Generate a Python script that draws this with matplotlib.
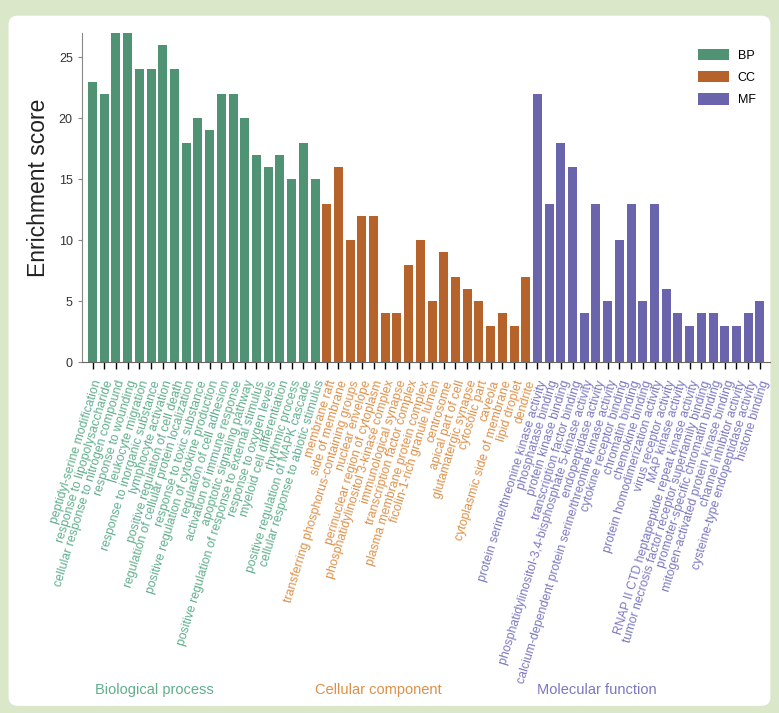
import numpy as np
import matplotlib.pyplot as plt
from matplotlib.patches import FancyBboxPatch, Patch
from matplotlib.transforms import blended_transform_factory

plt.rcParams['font.family'] = ['Liberation Sans', 'DejaVu Sans']

bp_terms = [
    "peptidyl-serine modification",
    "response to lipopolysaccharide",
    "cellular response to nitrogen compound",
    "response to wounding",
    "leukocyte migration",
    "response to inorganic substance",
    "lymphocyte activation",
    "positive regulation of cell death",
    "regulation of cellular protein localization",
    "response to toxic substance",
    "positive regulation of cytokine production",
    "regulation of cell adhesion",
    "activation of immune response",
    "apoptotic signaling pathway",
    "positive regulation of response to external stimulus",
    "response to oxygen levels",
    "myeloid cell differentiation",
    "rhythmic process",
    "positive regulation of MAPK cascade",
    "cellular response to abiotic stimulus",
]
bp_scores = [23, 22, 27, 27, 24, 24, 26, 24, 18, 20, 19, 22, 22, 20, 17, 16, 17, 15, 18, 15]

cc_terms = [
    "membrane raft",
    "side of membrane",
    "transferring phosphorus-containing groups",
    "nuclear envelope",
    "perinuclear region of cytoplasm",
    "phosphatidylinositol 3-kinase complex",
    "immunological synapse",
    "transcription factor complex",
    "plasma membrane protein complex",
    "ficolin-1-rich granule lumen",
    "centrosome",
    "apical part of cell",
    "glutamatergic synapse",
    "cytosolic part",
    "caveola",
    "cytoplasmic side of membrane",
    "lipid droplet",
    "dendrite",
]
cc_scores = [13, 16, 10, 12, 12, 4, 4, 8, 10, 5, 9, 7, 6, 5, 3, 4, 3, 7]

mf_terms = [
    "protein serine/threonine kinase activity",
    "phosphatase binding",
    "protein kinase binding",
    "transcription factor binding",
    "phosphatidylinositol-3,4-bisphosphate 5-kinase activity",
    "endopeptidase activity",
    "calcium-dependent protein serine/threonine kinase activity",
    "cytokine receptor binding",
    "chromatin binding",
    "chemokine binding",
    "protein homodimerization activity",
    "virus receptor activity",
    "MAP kinase activity",
    "RNAP II CTD heptapeptide repeat kinase activity",
    "tumor necrosis factor receptor superfamily binding",
    "promoter-specific chromatin binding",
    "mitogen-activated protein kinase binding",
    "channel inhibitor activity",
    "cysteine-type endopeptidase activity",
    "histone binding",
]
mf_scores = [22, 13, 18, 16, 4, 13, 5, 10, 13, 5, 13, 6, 4, 3, 4, 4, 3, 3, 4, 5]

groups = ["BP", "CC", "MF"]
group_names = ["Biological process", "Cellular component", "Molecular function"]
bar_colors = {"BP": "#4f9274", "CC": "#b5622b", "MF": "#6a64ad"}
text_colors = {"BP": "#5fae8c", "CC": "#dd9048", "MF": "#7b78c0"}

terms = bp_terms + cc_terms + mf_terms
scores = bp_scores + cc_scores + mf_scores
labels = ["BP"] * len(bp_terms) + ["CC"] * len(cc_terms) + ["MF"] * len(mf_terms)
x = np.arange(len(terms))

fig = plt.figure(figsize=(7.79, 7.13), dpi=100)
fig.patch.set_facecolor("#dbe7c9")
panel = FancyBboxPatch((0.011, 0.01), 0.978, 0.968,
                       boxstyle="round,pad=0,rounding_size=0.012",
                       transform=fig.transFigure, facecolor="white",
                       edgecolor="none", zorder=-1)
fig.patches.append(panel)

ax = fig.add_axes([0.105, 0.492, 0.884, 0.462])
ax.set_facecolor("none")

ax.bar(x, scores, width=0.77, color=[bar_colors[g] for g in labels], zorder=2)

ax.set_xlim(-0.92, len(terms) - 0.1)
ax.set_ylim(0, 27)
ax.set_yticks([0, 5, 10, 15, 20, 25])
ax.tick_params(axis="y", labelsize=9, colors="#333333", length=3, color="#888888")
ax.set_ylabel("Enrichment score", fontsize=16.5, color="#222222")
ax.yaxis.set_label_coords(-0.046, 0.53)

ax.set_xticks(x)
ax.set_xticklabels(terms, rotation=73, ha="right", rotation_mode="anchor", fontsize=8.8)
ax.tick_params(axis="x", length=5, width=1, pad=7)
for tick, lbl, g in zip(ax.xaxis.get_major_ticks(), ax.get_xticklabels(), labels):
    tick.tick1line.set_color(bar_colors[g])
    lbl.set_color(text_colors[g])

for side in ["top", "right"]:
    ax.spines[side].set_visible(False)
ax.spines["left"].set_color("#888888")
ax.spines["bottom"].set_color("#666666")

# group captions under the tick labels
trans = blended_transform_factory(ax.transData, fig.transFigure)
centers = [5.3, 24.4, 43.1]
for g, name, cx in zip(groups, group_names, centers):
    ax.text(cx, 0.032, name, transform=trans, ha="center", va="center",
            fontsize=10.5, color=text_colors[g])

handles = [Patch(facecolor=bar_colors[g], label=g) for g in groups]
ax.legend(handles=handles, loc="upper right", bbox_to_anchor=(0.995, 0.985),
          frameon=False, fontsize=9, handlelength=2.5, handleheight=1.0,
          labelspacing=0.75, handletextpad=0.7)

fig.savefig("out.png", dpi=100, facecolor=fig.get_facecolor())
